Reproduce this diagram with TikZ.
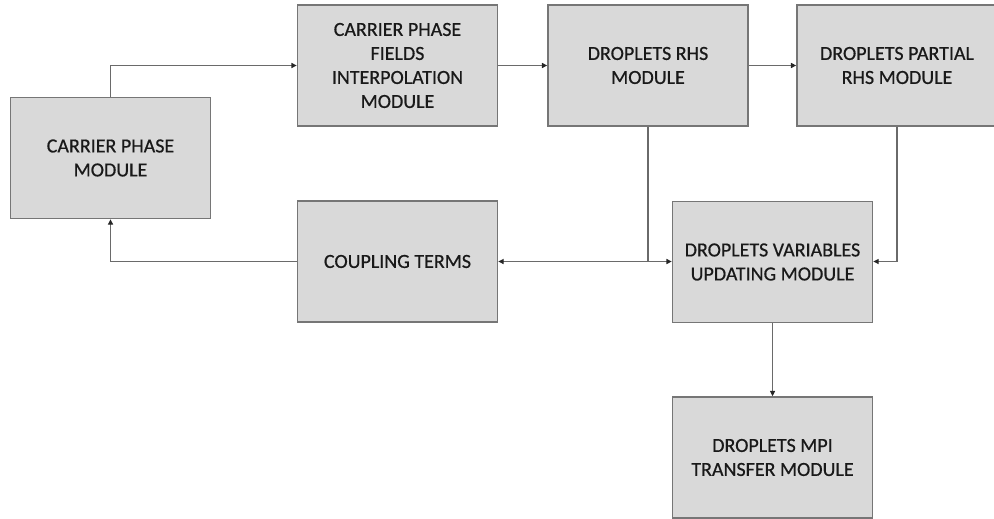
\documentclass[tikz,border=0pt]{standalone}
\usepackage{fontspec}
\setmainfont{Carlito}[FakeBold=1.2]
\newfontfamily\boxfont{Carlito}[FakeBold=0.6]
\usetikzlibrary{arrows.meta}
\definecolor{boxfill}{HTML}{D9D9D9}
\definecolor{boxline}{HTML}{767676}
\definecolor{wire}{HTML}{6A6A6A}
\tikzset{
  modbox/.style={draw=boxline, line width=1.3pt, fill=boxfill, minimum width=200pt, minimum height=121pt, inner sep=0pt, align=center, text=black!90, font=\boxfont\fontsize{20pt}{24pt}\selectfont},
  wireline/.style={draw=wire, line width=1.3pt},
  arr/.style={wireline, -{Triangle[length=5.5pt,width=5pt,fill=black!85,color=black!85]}}
}
\begin{document}
\begin{tikzpicture}[x=1pt,y=-1pt]
\useasboundingbox (0,0) rectangle (994,519);
\node[modbox] (cp) at (110.5,158) {CARRIER PHASE\\MODULE};
\node[modbox] (cpfi) at (397.5,65.5) {CARRIER PHASE\\FIELDS\\INTERPOLATION\\MODULE};
\node[modbox] (drhs) at (648,65.5) {DROPLETS RHS\\MODULE};
\node[modbox] (dprhs) at (897,65.5) {DROPLETS PARTIAL\\RHS MODULE};
\node[modbox] (coup) at (397.5,261.5) {COUPLING TERMS};
\node[modbox] (dvu) at (772.5,262) {DROPLETS VARIABLES\\UPDATING MODULE};
\node[modbox] (mpi) at (772.5,457.5) {DROPLETS MPI\\TRANSFER MODULE};
\coordinate (j) at (drhs.south |- coup.east);
\draw[arr] (cp.north) |- (cpfi.west);
\draw[arr] (cpfi.east) -- (drhs.west);
\draw[arr] (drhs.east) -- (dprhs.west);
\draw[wireline] (drhs.south) -- (j);
\draw[arr] (j) -- (coup.east);
\draw[arr] (j) -- (dvu.west |- j);
\draw[arr] (dprhs.south) |- (dvu.east |- j);
\draw[arr] (dvu.south) -- (mpi.north);
\draw[arr] (coup.west) -| (cp.south);
\end{tikzpicture}
\end{document}
